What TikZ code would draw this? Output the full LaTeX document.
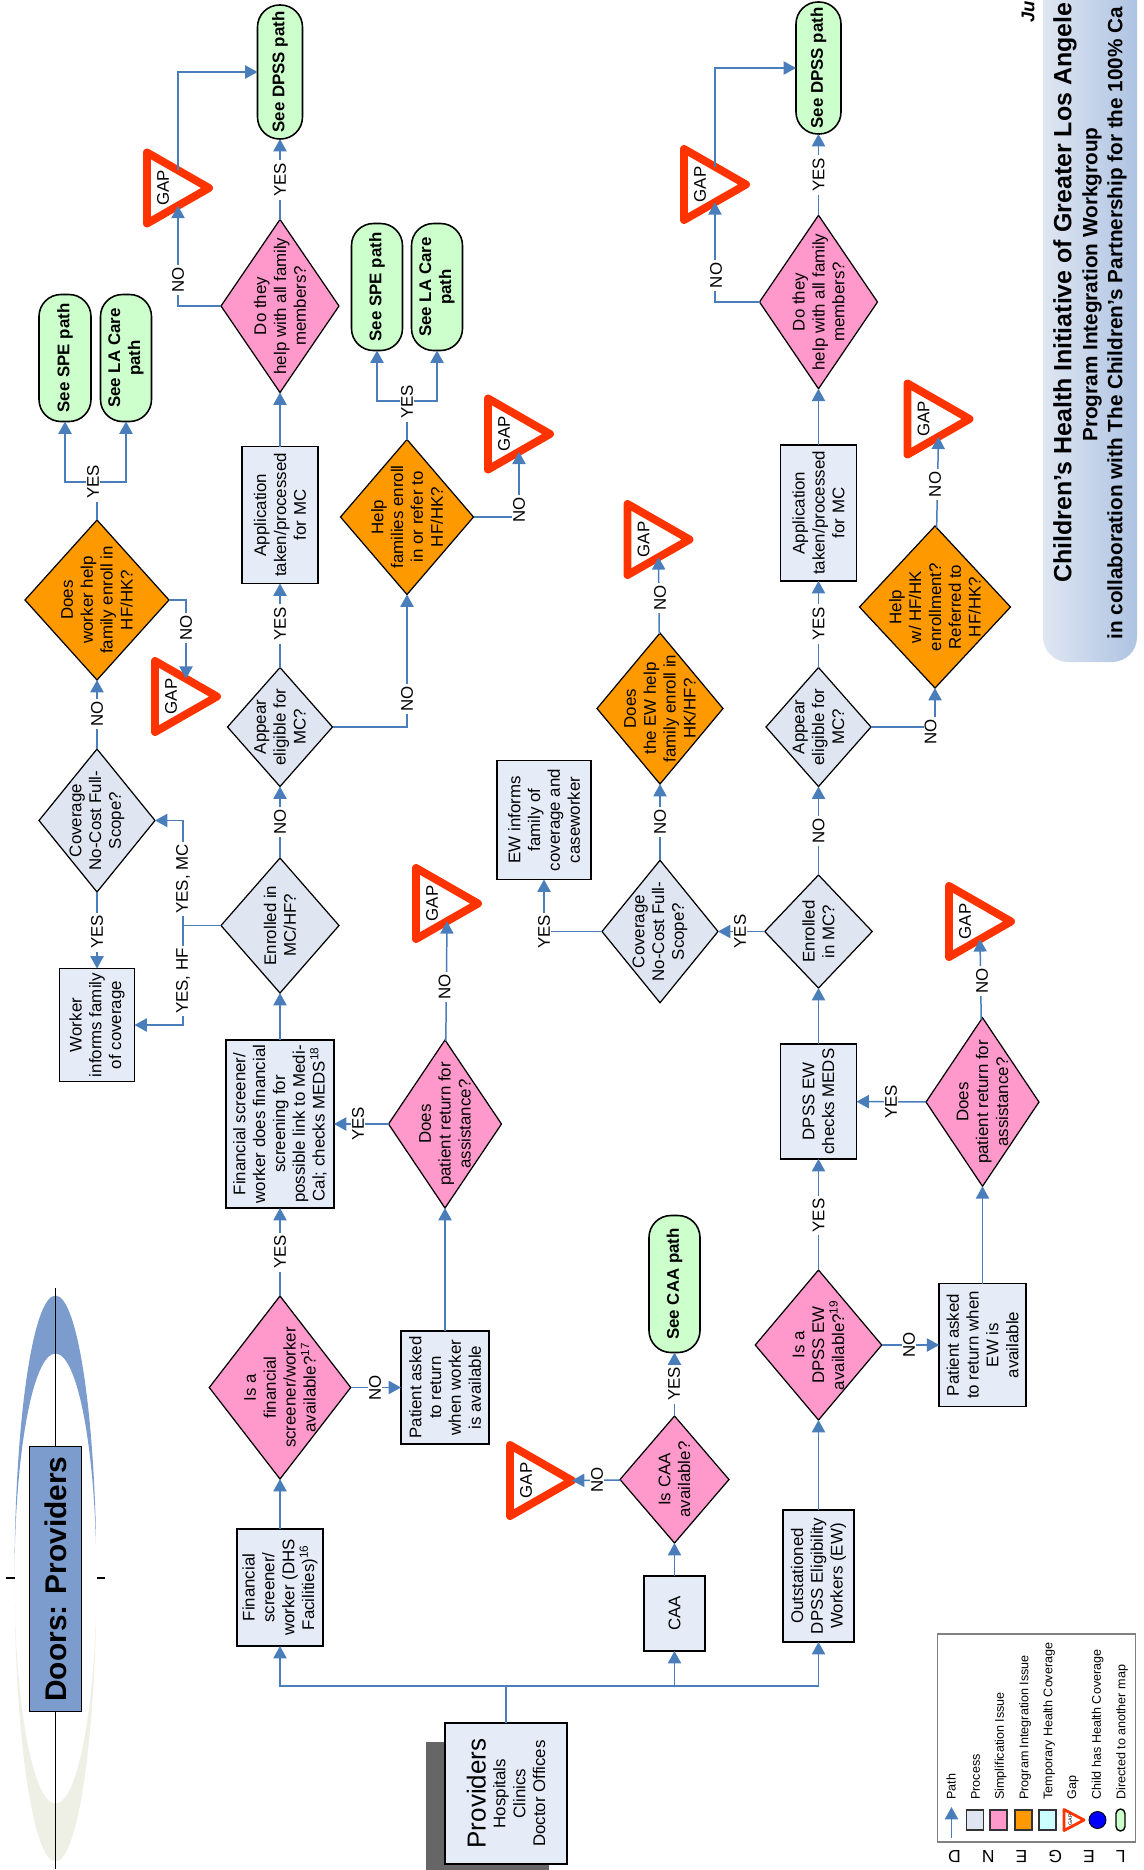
\documentclass[tikz,border=0pt]{standalone}
\usepackage{fontspec}
\setmainfont{Liberation Sans}
\usetikzlibrary{arrows.meta,shapes.geometric}
\definecolor{pathblue}{HTML}{4A7EBB}
\definecolor{boxfill}{HTML}{E6ECF7}
\definecolor{askfill}{HTML}{DFE6F2}
\definecolor{simpfill}{HTML}{FF99CC}
\definecolor{progfill}{HTML}{FF9900}
\definecolor{seefill}{HTML}{CCFFCC}
\definecolor{tempfill}{HTML}{CCFFFF}
\definecolor{gapred}{HTML}{FF3300}
\definecolor{crestop}{HTML}{7C9CCE}
\definecolor{cresbot}{HTML}{EEF0E6}
\definecolor{bandright}{HTML}{AEC3E2}
\pgfdeclareverticalshading{crescent}{100bp}{color(0bp)=(cresbot); color(49bp)=(cresbot); color(51bp)=(crestop); color(100bp)=(crestop)}
\tikzset{
  body/.style={font=\fontsize{9.6}{11.3}\selectfont,align=center},
  rbox/.style 2 args={draw=black,line width=0.9pt,fill=boxfill,rotate=90,inner sep=0pt,outer sep=0pt,body,
    minimum height=#1*0.02cm,minimum width=#2*0.02cm},
  seepath/.style 2 args={draw=black,line width=0.9pt,fill=seefill,rotate=90,inner sep=0pt,outer sep=0pt,rounded corners=0.44cm,
    font=\fontsize{9.6}{11.3}\selectfont\bfseries,align=center,minimum height=#1*0.02cm,minimum width=#2*0.02cm},
  ask/.style 2 args={diamond,draw=black,line width=0.7pt,inner sep=0pt,outer sep=0pt,
    minimum width=#1*0.02cm,minimum height=#2*0.02cm},
  qtext/.style={body,rotate=90},
  gap/.style={isosceles triangle,isosceles triangle stretches,draw=gapred,line width=4.5pt,line join=round,fill=white,
    inner sep=0pt,outer sep=0pt,minimum width=71*0.02cm,minimum height=62*0.02cm,anchor=apex},
  gaptext/.style={body,xshift=-0.09cm,rotate=90},
  pathline/.style={draw=pathblue,line width=0.85pt},
  conn/.style={pathline,-{Triangle[width=7.5pt,length=7pt]}},
  lab/.style={body,rotate=90,fill=white,inner xsep=1.5pt,inner ysep=0.5pt},
  keytext/.style={font=\fontsize{7.15}{8}\selectfont,rotate=90,anchor=west,inner sep=0pt},
  swatch/.style={draw=black!80,line width=0.8pt,minimum width=17*0.02cm,minimum height=20*0.02cm,inner sep=0pt,outer sep=0pt},
  heading/.style={font=\fontsize{11.8}{13}\selectfont\bfseries,rotate=90,anchor=west,inner sep=0pt},
}
\begin{document}
\begin{tikzpicture}[x=0.02cm,y=-0.02cm]
\useasboundingbox (0,0) rectangle (1143,1870);
% title band
\shade[rounded corners=0.5cm,left color=askfill,right color=bandright] (1043,-40) rectangle (1137,662);
\node[heading,font=\fontsize{14.2}{15}\selectfont\bfseries] (title) at (1065,583) {Children’s Health Initiative of Greater Los Angele};
\node[heading] (subtitle) at (1092,442) {Program Integration Workgroup};
\node[heading] (partner) at (1117,640) {in collaboration with The Children’s Partnership for the 100\% Ca};
\node[heading,font=\fontsize{10.5}{12}\selectfont\bfseries\itshape] (date) at (1028,23) {Ju};
% door banner
\path[shading=crescent,even odd rule] (55.5,1578.5) ellipse [x radius=41,y radius=283] (55.5,1578.5) ellipse [x radius=41,y radius=225];
\draw[line width=0.7pt] (55.5,1288) -- (55.5,1869);
\draw[line width=0.7pt] (6,1578) -- (14.5,1578);
\draw[line width=0.7pt] (97,1578) -- (105,1578);
\node[draw=black,line width=0.8pt,fill=crestop,rotate=90,inner sep=0pt,minimum width=265*0.02cm,minimum height=52*0.02cm,font=\fontsize{17}{19}\selectfont\bfseries] (doors) at (55.5,1579) {Doors: Providers};
% providers
\fill[black!60] (425.5,1742) rectangle (549,1870);
\node[rbox={122.5}{141}] (prov) at (506,1793.5) {{\fontsize{14.8}{17}\selectfont Providers}\\Hospitals\\Clinics\\Doctor Offices};
% hospital column
\node[rbox={86}{117}] (dhs) at (280,1587.5) {Financial\\screener/\\worker (DHS\\Facilities)\textsuperscript{16}};
\node[ask={141.5}{183},fill=simpfill,label={[qtext]center:{Is a\\financial\\screener/worker\\available?\textsuperscript{17}}}] (isfin) at (280,1387.5) {};
\node[rbox={108}{168}] (finwork) at (280,1124) {Financial screener/\\worker does financial\\screening for\\possible link to Medi-\\Cal; checks MEDS\textsuperscript{18}};
\node[ask={118}{135},fill=askfill,label={[qtext]center:{Enrolled in\\MC/HF?}}] (enr) at (280,925.5) {};
\node[ask={105}{119},fill=askfill,label={[qtext]center:{Appear\\eligible for\\MC?}}] (app) at (280,727) {};
\node[rbox={76}{137}] (appl) at (280,515) {Application\\taken/processed\\for MC};
\node[ask={118}{173},fill=simpfill,label={[qtext]center:{Do they\\help with all family\\members?}}] (dothey) at (280,306) {};
\node[seepath={45}{134}] (dpss) at (280,72) {See DPSS path};
\node[gap,label={[gaptext]center:GAP}] (gapa) at (209,188) {};
\node[ask={116}{143},fill=askfill,label={[qtext]center:{Coverage\\No-Cost Full-\\Scope?}}] (cov) at (97,820.5) {};
\node[rbox={75}{113}] (worker) at (97,1025) {Worker\\informs family\\of coverage};
\node[ask={144}{160},fill=progfill,label={[qtext]center:{Does\\worker help\\family enroll in\\HF/HK?}}] (help) at (97,600) {};
\node[gap,label={[gaptext]center:GAP}] (gapb) at (217,696.5) {};
\node[seepath={52}{127}] (spea) at (65,358) {See SPE path};
\node[seepath={51}{127}] (laa) at (126,358) {See LA Care\\path};
\node[ask={133}{155},fill=progfill,label={[qtext]center:{Help\\families enroll\\in or refer to\\HF/HK?}}] (fam) at (407,517) {};
\node[seepath={51}{127}] (speb) at (377,287) {See SPE path};
\node[seepath={51}{127}] (lab) at (437,287) {See LA Care\\path};
\node[gap,label={[gaptext]center:GAP}] (gapc) at (550,434) {};
\node[ask={113}{168},fill=simpfill,label={[qtext]center:{Does\\patient return for\\assistance?}}] (retu) at (445,1124) {};
\node[gap,label={[gaptext]center:GAP}] (gapd) at (478,903.5) {};
\node[rbox={88}{113}] (ask) at (445,1387.5) {Patient asked\\to return\\when worker\\is available};
% caa column
\node[rbox={60.5}{75}] (caa) at (674.5,1613.5) {CAA};
\node[ask={109}{127},fill=simpfill,label={[qtext]center:{Is CAA\\available?}}] (iscaa) at (674.5,1479.5) {};
\node[seepath={51}{137}] (seecaa) at (674.5,1284) {See CAA path};
\node[gap,label={[gaptext]center:GAP}] (gape) at (572,1480.5) {};
% dpss column
\node[rbox={71}{132}] (out) at (818.5,1576) {Outstationed\\DPSS Eligibility\\Workers (EW)};
\node[ask={126.5}{150},fill=simpfill,label={[qtext]center:{Is a\\DPSS EW\\available?\textsuperscript{19}}}] (isew) at (818.5,1345) {};
\node[rbox={76}{115}] (meds) at (818.5,1101.5) {DPSS EW\\checks MEDS};
\node[ask={107.5}{113},fill=askfill,label={[qtext]center:{Enrolled\\in MC?}}] (enrb) at (818.5,931.5) {};
\node[ask={105}{119},fill=askfill,label={[qtext]center:{Appear\\eligible for\\MC?}}] (appb) at (818.5,727) {};
\node[rbox={76}{136}] (applb) at (818.5,513) {Application\\taken/processed\\for MC};
\node[ask={118}{173.5},fill=simpfill,label={[qtext]center:{Do they\\help with all family\\members?}}] (dotheyb) at (818.5,302) {};
\node[seepath={45}{132}] (dpssb) at (818.5,68) {See DPSS path};
\node[gap,label={[gaptext]center:GAP}] (gapf) at (746,184.5) {};
\node[ask={116}{142.5},fill=askfill,label={[qtext]center:{Coverage\\No-Cost Full-\\Scope?}}] (covb) at (660,931.5) {};
\node[rbox={94}{119}] (inf) at (544,820) {EW informs\\family of\\coverage and\\caseworker};
\node[ask={126}{151},fill=progfill,label={[qtext]center:{Does\\the EW help\\family enroll in\\HK/HF?}}] (helpb) at (660,708.5) {};
\node[gap,label={[gaptext]center:GAP}] (gapg) at (689.5,539.5) {};
\node[ask={151}{162},fill=progfill,label={[qtext]center:{Help\\w/ HF/HK\\enrollment?\\Referred to\\HF/HK?}}] (hfhk) at (935,607) {};
\node[gap,label={[gaptext]center:GAP}] (gaph) at (969.5,419) {};
\node[ask={113}{168.5},fill=simpfill,label={[qtext]center:{Does\\patient return for\\assistance?}}] (retub) at (982.5,1102) {};
\node[gap,label={[gaptext]center:GAP}] (gapi) at (1011,921.5) {};
\node[rbox={86.5}{123}] (askb) at (982.5,1345) {Patient asked\\to return when\\EW is\\available};
% paths
\coordinate (bus) at (506,1686);
\draw[pathline] (prov) -- (bus);
\draw[conn] (bus) -| (dhs);
\draw[conn] (bus) -| (caa);
\draw[conn] (bus) -| (out);
\draw[conn] (dhs) -- (isfin);
\draw[conn] (isfin) -- (finwork);
\draw[conn] (finwork) -- (enr);
\draw[conn] (enr) -- (app);
\draw[conn] (app) -- (appl);
\draw[conn] (appl) -- (dothey);
\draw[conn] (dothey) -- (dpss);
\draw[conn] (dothey.west) -| (gapa.right side);
\draw[conn] (gapa.left side) |- (dpss);
\coordinate (split) at (183,925.5);
\draw[pathline] (enr) -- (split);
\draw[conn] (split) |- (cov);
\draw[conn] (split) |- (worker);
\draw[conn] (cov) -- (worker);
\draw[conn] (cov) -- (help);
\draw[conn] (help.east) -| (gapb.left side);
\coordinate (forka) at (97,482);
\draw[pathline] (help) -- (forka);
\draw[conn] (forka) -| (spea);
\draw[conn] (forka) -| (laa);
\draw[conn] (app.east) -| (fam);
\coordinate (forkb) at (407,401);
\draw[pathline] (fam) -- (forkb);
\draw[conn] (forkb) -| (speb);
\draw[conn] (forkb) -| (lab);
\draw[conn] (fam.east) -| (gapc.right side);
\draw[conn] (isfin) -- (ask);
\draw[conn] (ask) -- (retu);
\draw[conn] (retu) -- (finwork);
\draw[conn] (retu) -- (gapd.right side);
\draw[conn] (caa) -- (iscaa);
\draw[conn] (iscaa) -- (seecaa);
\draw[conn] (iscaa) -- (gape.apex);
\draw[conn] (out) -- (isew);
\draw[conn] (isew) -- (meds);
\draw[conn] (isew) -- (askb);
\draw[conn] (askb) -- (retub);
\draw[conn] (retub) -- (meds);
\draw[conn] (retub) -- (gapi.right side);
\draw[conn] (meds) -- (enrb);
\draw[conn] (enrb) -- (appb);
\draw[conn] (appb) -- (applb);
\draw[conn] (applb) -- (dotheyb);
\draw[conn] (dotheyb) -- (dpssb);
\draw[conn] (dotheyb.west) -| (gapf.right side);
\draw[conn] (gapf.left side) |- (dpssb);
\draw[conn] (enrb) -- (covb);
\draw[conn] (covb) -| (inf);
\draw[conn] (covb) -- (helpb);
\draw[conn] (helpb) -- (gapg.right side);
\draw[conn] (appb.east) -| (hfhk);
\draw[conn] (hfhk) -- (gaph.right side);
% path labels
\node[lab] (la) at (93,482) {YES};
\node[lab] (lb) at (186,628) {NO};
\node[lab] (lc) at (178,280) {NO};
\node[lab] (ld) at (280,180) {YES};
\node[lab] (le) at (280,624) {YES};
\node[lab] (lf) at (407,402) {YES};
\node[lab] (lg) at (519,510) {NO};
\node[lab] (lh) at (407,699) {NO};
\node[lab] (li) at (97,714) {NO};
\node[lab] (lj) at (97,932) {YES};
\node[lab] (lk) at (183,879) {YES, MC};
\node[lab] (ll) at (183,981) {YES, HF};
\node[lab] (lm) at (280,822) {NO};
\node[lab] (ln) at (358,1124) {YES};
\node[lab] (lo) at (444.5,987) {NO};
\node[lab] (lp) at (280,1252) {YES};
\node[lab] (lq) at (375,1388) {NO};
\node[lab] (lr) at (597,1480) {NO};
\node[lab] (ls) at (674,1384) {YES};
\node[lab] (lt) at (909,1345) {NO};
\node[lab] (lu) at (818.5,1215.5) {YES};
\node[lab] (lv) at (544,932) {YES};
\node[lab] (lw) at (740,931.5) {YES};
\node[lab] (lx) at (660,822) {NO};
\node[lab] (ly) at (660,598) {NO};
\node[lab] (lz) at (818.5,831) {NO};
\node[lab] (lza) at (818.5,624) {YES};
\node[lab] (lzb) at (818.5,175) {YES};
\node[lab] (lzc) at (716,275.5) {NO};
\node[lab] (lzd) at (930.5,732) {NO};
\node[lab] (lze) at (935,484.5) {NO};
\node[lab] (lzf) at (891,1102) {YES};
\node[lab] (lzg) at (982,981) {NO};
% key
\node[draw=black!50,line width=0.8pt,fill=white,inner sep=0pt,minimum width=198*0.02cm,minimum height=208*0.02cm] (key) at (1036.5,1738) {};
\coordinate (keya) at (951.5,1838);
\coordinate (keyb) at (951.5,1807);
\draw[conn] (keya) -- (keyb);
\node[swatch,fill=askfill] (swa) at (975,1820) {};
\node[swatch,fill=simpfill] (swb) at (998.5,1820) {};
\node[swatch,fill=progfill] (swc) at (1023.5,1820) {};
\node[swatch,fill=tempfill] (swd) at (1047.5,1820) {};
\node[isosceles triangle,isosceles triangle stretches,draw=gapred,line width=1.6pt,line join=round,fill=white,inner sep=0pt,outer sep=0pt,minimum width=21*0.02cm,minimum height=20*0.02cm,anchor=apex,label={[rotate=90,font=\fontsize{3}{3}\selectfont,inner sep=0pt]center:GAP}] (swe) at (1084,1820) {};
\node[circle,draw=black,fill=blue,line width=0.5pt,inner sep=0pt,minimum width=17*0.02cm] (swf) at (1097.5,1820) {};
\node[draw=black,line width=0.8pt,fill=seefill,rounded corners=0.09cm,inner sep=0pt,minimum width=9*0.02cm,minimum height=22*0.02cm] (swg) at (1120.5,1820) {};
\node[keytext] (ka) at (951,1800) {Path};
\node[keytext] (kb) at (975.7,1800) {Process};
\node[keytext] (kc) at (1000.6,1800) {Simplification Issue};
\node[keytext] (kd) at (1025,1800) {Program Integration Issue};
\node[keytext] (ke) at (1049,1800) {Temporary Health Coverage};
\node[keytext] (kf) at (1073,1800) {Gap};
\node[keytext] (kg) at (1097.6,1800) {Child has Health Coverage};
\node[keytext] (kh) at (1122,1800) {Directed to another map};
\node[rotate=180,font=\fontsize{10}{11}\selectfont,inner sep=0pt] (legend) at (1037,1857) {\makebox[3.55cm][s]{L\hfil E\hfil G\hfil E\hfil N\hfil D}};
\end{tikzpicture}
\end{document}
